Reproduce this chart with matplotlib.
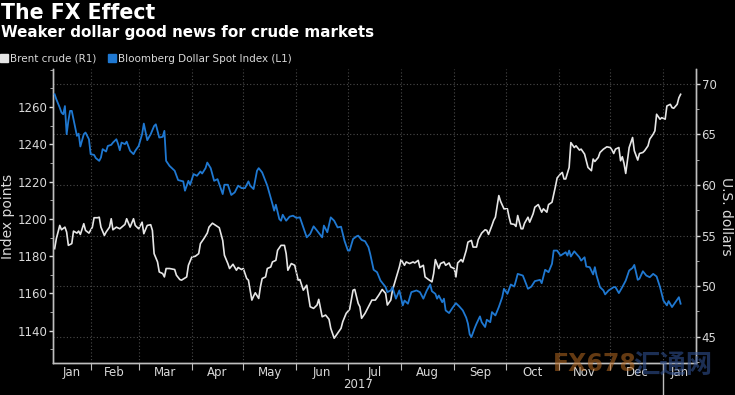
import matplotlib
matplotlib.use('Agg')
import matplotlib.pyplot as plt
import matplotlib.dates as mdates
from matplotlib.lines import Line2D
from matplotlib.ticker import MultipleLocator, FixedLocator, NullFormatter
import pandas as pd

# days counted from 2017-01-01
dollar_days = [10, 11, 13, 14, 15, 16, 17, 18, 19, 20, 21, 23, 24, 25, 27, 28, 30, 31, 33, 34,
               36, 37, 38, 40, 41, 43, 44, 46, 47, 48, 49, 51, 52, 54, 56, 57, 59, 61, 62, 64,
               66, 68, 69, 71, 73, 74, 75, 77, 80, 82, 85, 86, 88, 89, 91, 93, 95, 96, 98, 99,
               101, 103, 105, 108, 109, 111, 113, 115, 117, 119, 121, 123, 124, 126, 128, 129, 131, 134, 137, 138,
               139, 141, 142, 143, 145, 147, 149, 151, 153, 155, 157, 159, 161, 163, 166, 167, 169, 171, 173, 175,
               177, 179, 181, 182, 184, 186, 187, 189, 191, 193, 194, 196, 198, 200, 203, 204, 206, 207, 209, 211,
               213, 214, 216, 218, 221, 223, 225, 227, 229, 230, 232, 233, 234, 236, 237, 238, 240, 242, 244, 246,
               248, 250, 251, 252, 253, 255, 256, 258, 259, 261, 262, 264, 265, 267, 269, 271, 272, 274, 276, 278,
               279, 280, 283, 284, 286, 288, 290, 293, 294, 296, 298, 300, 301, 303, 305, 306, 308, 309, 310, 311,
               313, 314, 316, 317, 319, 320, 322, 324, 325, 326, 328, 330, 331, 333, 336, 337, 339, 341, 343, 345,
               347, 348, 350, 351, 353, 355, 357, 359, 361, 363, 365, 367, 368, 370, 372, 374, 375]
dollar_vals = [1266.8, 1264.1, 1259.6, 1257.0, 1256.1, 1260.5, 1245.4, 1252.5, 1257.9, 1257.9,
               1253.4, 1244.5, 1245.7, 1238.8, 1245.4, 1246.3, 1242.7, 1234.7, 1234.3, 1232.6,
               1231.1, 1232.9, 1237.4, 1236.1, 1239.1, 1239.7, 1240.9, 1242.7, 1240.1, 1236.8,
               1240.9, 1240.1, 1241.4, 1236.5, 1234.7, 1236.5, 1239.1, 1245.4, 1251.1, 1242.2,
               1245.4, 1249.8, 1250.7, 1243.6, 1244.0, 1247.2, 1231.1, 1228.4, 1225.8, 1220.8,
               1220.1, 1215.1, 1220.4, 1218.3, 1224.0, 1223.1, 1225.4, 1224.3, 1227.2, 1230.2,
               1227.2, 1220.4, 1221.3, 1213.3, 1218.3, 1218.3, 1212.8, 1214.2, 1217.8, 1216.5,
               1216.5, 1220.1, 1217.8, 1216.0, 1225.8, 1227.2, 1224.9, 1217.8, 1208.0, 1204.4,
               1207.6, 1199.9, 1199.0, 1202.2, 1199.0, 1201.2, 1201.7, 1200.5, 1200.8, 1195.4,
               1190.1, 1191.9, 1196.0, 1193.7, 1190.1, 1196.4, 1192.8, 1200.8, 1199.0, 1195.4,
               1195.8, 1188.3, 1183.0, 1183.0, 1189.2, 1190.6, 1191.0, 1188.7, 1188.0, 1184.8,
               1181.2, 1172.7, 1171.4, 1166.9, 1163.4, 1160.7, 1161.6, 1163.4, 1157.2, 1161.6,
               1153.6, 1156.2, 1154.5, 1160.7, 1161.6, 1160.7, 1157.2, 1161.6, 1164.8, 1161.2,
               1159.8, 1157.2, 1158.9, 1155.3, 1157.2, 1150.9, 1149.5, 1152.3, 1154.8, 1153.0,
               1150.9, 1147.0, 1143.8, 1138.1, 1136.6, 1141.6, 1143.8, 1147.7, 1144.6, 1142.0,
               1145.9, 1144.6, 1150.0, 1148.2, 1152.7, 1158.0, 1162.5, 1159.8, 1164.8, 1163.7,
               1166.9, 1170.5, 1169.6, 1167.3, 1162.5, 1163.7, 1166.6, 1167.3, 1165.5, 1172.7,
               1171.4, 1175.9, 1183.0, 1183.0, 1180.3, 1180.9, 1182.1, 1180.3, 1183.0, 1179.8,
               1182.6, 1181.5, 1179.4, 1177.6, 1179.4, 1174.4, 1174.1, 1170.2, 1174.1, 1169.6,
               1163.4, 1161.6, 1159.5, 1161.6, 1163.4, 1163.4, 1160.2, 1163.4, 1166.9, 1172.3,
               1173.7, 1175.3, 1167.3, 1167.9, 1171.9, 1169.6, 1168.7, 1170.5, 1169.1, 1163.4,
               1156.2, 1153.6, 1155.9, 1152.7, 1155.4, 1158.0, 1154.5]

brent_days = [10, 11, 13, 14, 16, 17, 18, 20, 21, 23, 24, 25, 27, 28, 30, 32, 33, 35, 36, 37,
              39, 40, 42, 43, 44, 46, 48, 51, 52, 54, 56, 57, 59, 61, 62, 64, 66, 67, 68, 70,
              71, 73, 74, 75, 77, 80, 81, 83, 84, 87, 88, 90, 92, 94, 95, 97, 99, 100, 102, 104,
              106, 108, 109, 111, 112, 114, 116, 117, 119, 120, 122, 123, 125, 126, 127, 129, 130, 131, 133, 134,
              136, 137, 139, 140, 142, 144, 145, 146, 148, 150, 152, 153, 155, 157, 159, 161, 163, 164, 166, 168,
              170, 171, 173, 175, 177, 178, 180, 182, 184, 185, 187, 188, 189, 191, 193, 195, 197, 199, 201, 203,
              204, 206, 207, 209, 211, 212, 214, 215, 217, 219, 220, 222, 223, 225, 226, 228, 230, 231, 232, 234,
              235, 237, 238, 240, 241, 243, 244, 245, 247, 248, 250, 251, 253, 254, 256, 257, 259, 261, 262, 263,
              265, 266, 267, 269, 270, 272, 274, 275, 276, 278, 279, 280, 282, 283, 284, 286, 287, 289, 290, 292,
              294, 295, 297, 298, 300, 302, 303, 305, 306, 307, 308, 310, 311, 313, 314, 316, 317, 319, 320, 321,
              323, 324, 325, 327, 328, 330, 332, 334, 335, 336, 337, 339, 340, 341, 342, 343, 344, 345, 347, 348,
              350, 351, 353, 354, 356, 357, 359, 360, 361, 363, 364, 366, 367, 369, 370, 371, 373, 374, 375]
brent_vals = [53.70, 54.70, 56.00, 55.57, 55.83, 55.34, 54.03, 54.20, 55.44, 55.24,
              55.44, 55.11, 56.17, 55.51, 55.24, 55.83, 56.76, 56.76, 56.81, 55.83,
              55.01, 55.34, 55.83, 56.66, 55.57, 55.83, 55.67, 56.10, 56.66, 55.83,
              56.66, 56.00, 55.67, 56.32, 55.18, 56.00, 56.07, 55.51, 53.21, 52.39,
              51.40, 51.24, 50.91, 51.74, 51.74, 51.64, 51.08, 50.65, 50.59, 50.91,
              52.06, 52.88, 52.95, 53.21, 54.20, 54.69, 55.24, 55.83, 56.22, 56.00,
              55.77, 54.52, 53.05, 52.23, 51.74, 52.16, 51.57, 51.84, 51.64, 51.74,
              50.75, 50.59, 48.62, 49.01, 49.34, 48.78, 49.93, 50.75, 50.91, 51.74,
              51.89, 52.39, 52.55, 53.54, 54.03, 54.03, 53.21, 51.57, 52.23, 52.06,
              50.59, 50.65, 49.60, 50.09, 47.96, 47.80, 48.13, 48.69, 46.97, 47.14,
              46.72, 45.83, 44.85, 45.34, 45.83, 46.48, 47.31, 47.70, 49.60, 49.67,
              48.29, 47.96, 46.82, 47.31, 47.96, 48.62, 48.62, 49.11, 49.67, 49.28,
              48.13, 48.62, 49.60, 50.75, 51.89, 52.62, 52.06, 52.39, 52.23, 52.39,
              52.29, 52.55, 51.84, 52.06, 50.91, 50.65, 50.42, 51.24, 52.62, 51.74,
              52.23, 52.39, 52.06, 52.29, 51.89, 51.74, 50.91, 52.29, 52.62, 52.39,
              53.54, 54.35, 54.52, 53.86, 53.86, 54.59, 55.24, 55.57, 55.51, 55.11,
              56.00, 56.49, 56.81, 58.95, 58.39, 57.64, 57.64, 56.81, 56.16, 56.10,
              55.90, 56.98, 55.67, 55.67, 56.22, 56.81, 56.32, 57.15, 57.80, 58.06,
              57.31, 57.64, 57.31, 58.06, 58.29, 59.84, 60.69, 61.09, 61.24, 60.59,
              60.59, 61.73, 64.19, 63.70, 63.87, 63.45, 63.54, 63.05, 62.39, 61.73,
              61.41, 62.56, 62.32, 62.72, 63.21, 63.54, 63.77, 63.70, 63.45, 63.11,
              63.54, 63.70, 62.39, 62.79, 62.13, 61.14, 62.39, 63.70, 64.69, 63.38,
              62.46, 63.11, 63.21, 63.38, 63.87, 64.53, 65.02, 65.35, 66.99, 66.50,
              66.65, 66.50, 67.81, 67.97, 67.64, 67.58, 67.97, 68.62, 68.96]

title = "The FX Effect"
subtitle = "Weaker dollar good news for crude markets"

bg = 'black'
fg = '#d9d9d9'
blue = '#1f78d1'
white = '#e6e6e6'
grid_col = '#4a4a4a'

start = pd.Timestamp('2017-01-01')
dollar_dates = start + pd.to_timedelta(dollar_days, unit='D')
brent_dates = start + pd.to_timedelta(brent_days, unit='D')
x0 = pd.Timestamp('2017-01-10')
x1 = pd.Timestamp('2018-01-20')

fig = plt.figure(figsize=(7.35, 3.95), dpi=100, facecolor=bg)
ax = fig.add_axes([0.072, 0.081, 0.875, 0.744])
ax.set_facecolor(bg)
ax2 = ax.twinx()

ax.plot(dollar_dates, dollar_vals, color=blue, lw=1.3, zorder=3)
ax2.plot(brent_dates, brent_vals, color=white, lw=1.2, zorder=3)

ax.set_xlim(x0, x1)
ax.set_ylim(1122.7, 1280.3)
ax2.set_ylim(42.4, 71.45)

for a in (ax, ax2):
    for s in a.spines.values():
        s.set_color('#bfbfbf')
        s.set_linewidth(1.0)
    a.spines['top'].set_visible(False)

ax.set_yticks(range(1140, 1261, 20))
ax.yaxis.set_minor_locator(MultipleLocator(10))
ax.tick_params(axis='y', which='major', colors=fg, labelsize=8.5, length=3, width=1, direction='out', pad=1)
ax.tick_params(axis='y', which='minor', colors='#bfbfbf', length=2)
ax2.set_yticks(range(45, 71, 5))
ax2.yaxis.set_minor_locator(MultipleLocator(2.5))
ax2.tick_params(axis='y', which='major', colors=fg, labelsize=8.5, length=3, width=1, direction='out', pad=1)
ax2.tick_params(axis='y', which='minor', colors='#bfbfbf', length=2)
ax.set_ylabel('Index points', color=fg, fontsize=10, labelpad=2)
ax2.set_ylabel('U.S. dollars', color=fg, fontsize=10, rotation=270, labelpad=12)

# month boundaries as ticks, labels centred on the visible part of each month
month_starts = pd.date_range('2017-02-01', '2018-01-01', freq='MS')
edges = [x0] + list(month_starts) + [x1]
mids = [a + (b - a) / 2 for a, b in zip(edges[:-1], edges[1:])]
ax.xaxis.set_major_locator(FixedLocator(mdates.date2num(month_starts)))
ax.xaxis.set_major_formatter(NullFormatter())
ax.xaxis.set_minor_locator(FixedLocator(mdates.date2num(mids)))
ax.set_xticklabels([m.strftime('%b') for m in mids], minor=True)
ax.tick_params(axis='x', which='major', colors='#bfbfbf', length=5, direction='out')
ax.tick_params(axis='x', which='minor', colors=fg, labelsize=8.5, length=0, pad=2)

year_end = pd.Timestamp('2018-01-01')
ax.plot([year_end, year_end], [0, -0.105], transform=ax.get_xaxis_transform(),
        color='#bfbfbf', lw=1, clip_on=False)
ax.text(x0 + (year_end - x0) / 2, -0.05, '2017', transform=ax.get_xaxis_transform(),
        color=fg, fontsize=8.5, ha='center', va='top')

ax.grid(axis='x', which='major', color=grid_col, linestyle=(0, (1, 2)), lw=0.8)
ax2.grid(axis='y', which='major', color=grid_col, linestyle=(0, (1, 2)), lw=0.8)
ax.set_zorder(2)
ax.patch.set_visible(False)
ax2.set_zorder(1)

fig.text(0.002, 0.993, title, color='white', fontsize=14.8, fontweight='bold', va='top')
fig.text(0.002, 0.937, subtitle, color='white', fontsize=10.9, fontweight='bold', va='top')

handles = [Line2D([], [], marker='s', ls='', color=white, markersize=6),
           Line2D([], [], marker='s', ls='', color=blue, markersize=6)]
fig.legend(handles, ['Brent crude (R1)', 'Bloomberg Dollar Spot Index (L1)'],
           loc='upper left', bbox_to_anchor=(-0.005, 0.874), ncol=2, frameon=False,
           fontsize=7.5, labelcolor=fg, handlelength=0.6, handletextpad=0.3,
           columnspacing=1.2, borderaxespad=0)

# watermark of the source site
fig.text(0.752, 0.06, 'FX678', color='#b86a22', alpha=0.55, fontsize=17, fontweight='bold')
fig.text(0.862, 0.055, '汇通网', color='#2f4f8f', alpha=0.6, fontsize=19,
         family=['Noto Sans CJK SC', 'DejaVu Sans'], fontweight='bold')

fig.savefig('out.png', dpi=100, facecolor=bg)
